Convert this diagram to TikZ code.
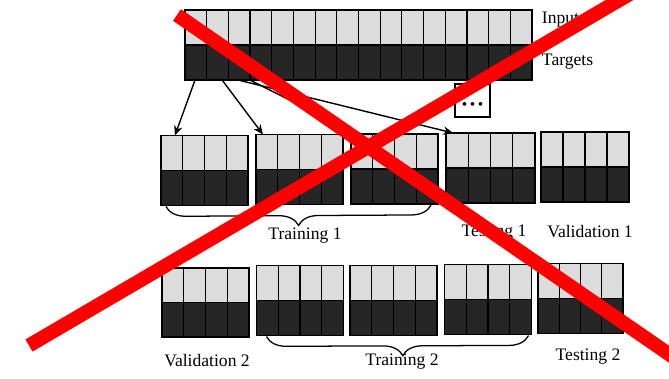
\documentclass[tikz,border=0pt]{standalone}
\usepackage{fontspec}
\setmainfont{Liberation Serif}
\usetikzlibrary{arrows.meta,calc,decorations.pathreplacing}
\definecolor{lightcell}{HTML}{DCDCDC}
\definecolor{darkcell}{HTML}{262626}

\begin{document}
\begin{tikzpicture}[
    x=0.025cm, y=-0.025cm,
    block/.style={rectangle, draw=black, line width=1.1pt, inner sep=0pt, outer sep=0pt,
        fill=lightcell, minimum width=2.175cm, minimum height=1.75cm,
        path picture={
            \fill[darkcell] (path picture bounding box.west) rectangle (path picture bounding box.south east);
            \draw[line width=0.8pt] (path picture bounding box.west) -- (path picture bounding box.east);
            \foreach \k in {1,...,#1}
                \draw[line width=0.8pt] ($(path picture bounding box.south west)!{\k/(#1+1)}!(path picture bounding box.south east)$)
                    -- ($(path picture bounding box.north west)!{\k/(#1+1)}!(path picture bounding box.north east)$);
        }},
    block/.default=3,
    arrow/.style={-{Stealth[length=7pt,width=6pt]}, line width=1pt},
    brace/.style={decorate, decoration={brace, amplitude=14pt, mirror}, line width=0.9pt},
    lbl/.style={font=\fontsize{12.5}{14}\selectfont},
    cross/.style={draw=red, line width=0.35cm}
]
    \useasboundingbox (0,0) rectangle (669,378);

    % Full data set
    \node[block=15, minimum width=8.675cm] (data) at (358.5,45) {};
    \node[lbl, anchor=west] (inputs) at (537,20) {Inputs};
    \node[lbl, anchor=west] (targets) at (537,62) {Targets};
    \node[draw, line width=0.8pt, minimum width=0.875cm, minimum height=0.825cm] (more) at (472.5,100.5) {};
    \node[font=\fontsize{11}{11}\selectfont, inner sep=0pt] (dots) at ($(more.center)+(0,6)$) {\textbullet\,\textbullet\,\textbullet};

    % Split 1
    \node[block] (a1) at (204.5,170.5) {};
    \node[block] (a2) at (299.5,169.5) {};
    \node[block] (a3) at (394.5,169) {};
    \node[block, minimum width=2.225cm] (a4) at (490.5,168) {};
    \node[block, minimum width=2.2cm] (a5) at (585,167) {};

    % Split 2
    \node[block, minimum height=1.725cm] (b1) at (205.5,302.5) {};
    \node[block] (b2) at (300,300.5) {};
    \node[block] (b3) at (393.5,300.5) {};
    \node[block] (b4) at (488,299.5) {};
    \node[block, minimum width=2.125cm] (b5) at (580.5,298.5) {};

    % Arrows from the data set to the folds
    \coordinate (s1) at ($(data.south west)!0.029!(data.south east)$);
    \coordinate (s2) at ($(data.south west)!0.107!(data.south east)$);
    \coordinate (s3) at ($(data.south west)!0.187!(data.south east)$);
    \coordinate (s4) at ($(data.south west)!0.153!(data.south east)$);
    \draw[arrow] (s1) -- ($(a1.north west)!0.16!(a1.north east)$);
    \draw[arrow] (s2) -- ($(a2.north west)!0.08!(a2.north east)$);
    \draw[arrow] (s3) -- ($(a3.north west)!0.07!(a3.north east)$);
    \draw[arrow] (s4) -- ($(a4.north west)!0.08!(a4.north east)$);

    % Braces and labels
    \draw[brace] ($(a1.south west)+(5,1)$) -- ($(a3.south east)+(-7,1)$);
    \node[lbl] (train1) at (305,235.5) {Training 1};
    \node[lbl] (test1) at (494,233) {Testing 1};
    \node[lbl] (val1) at (590,232) {Validation 1};

    \draw[brace, decoration={aspect=0.52}] ($(b2.south west)+(10,1)$) -- ($(b4.south east)+(-3,1)$);
    \node[lbl] (val2) at (207,361) {Validation 2};
    \node[lbl] (train2) at (402,362) {Training 2};
    \node[lbl] (test2) at (588,357) {Testing 2};

    % Crossed out
    \draw[cross] (177,15) -- (700,375.5);
    \draw[cross] (29,345.5) -- (640,-12);
\end{tikzpicture}
\end{document}
